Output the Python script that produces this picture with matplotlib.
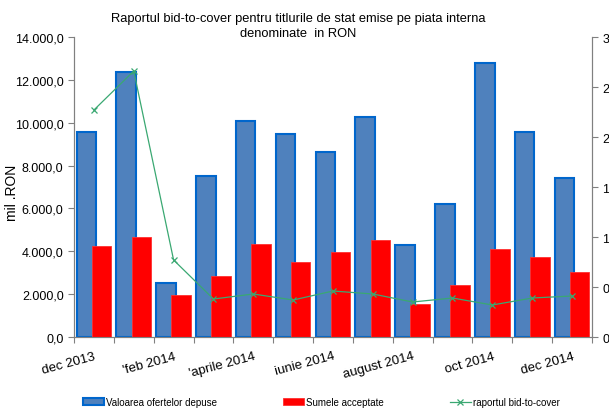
import numpy as np
import matplotlib.pyplot as plt
from matplotlib.ticker import FuncFormatter, MultipleLocator

plt.rcParams['font.family'] = ['Liberation Sans', 'DejaVu Sans']

months = ['dec 2013', 'ian 2014', "'feb 2014", 'mar 2014', "'aprile 2014", 'mai 2014',
          'iunie 2014', 'iulie 2014', 'august 2014', 'sep 2014', 'oct 2014', 'nov 2014',
          'dec 2014']
oferte = [9550, 12380, 2520, 7510, 10090, 9470, 8630, 10250, 4310, 6210, 12770, 9550, 7400]
acceptate = [4230, 4680, 1960, 2860, 4340, 3520, 3970, 4510, 1540, 2440, 4120, 3730, 3020]
btc = [2.27, 2.66, 0.77, 0.38, 0.43, 0.37, 0.46, 0.43, 0.35, 0.39, 0.32, 0.39, 0.41]

x = np.arange(len(months))

fig = plt.figure(figsize=(6.09, 4.10), dpi=100)
ax = fig.add_axes([0.1215, 0.1756, 0.8505, 0.7317])

w = 0.49
b1 = ax.bar(x - 0.19, oferte, w, color='#4F81BD', edgecolor='#0066CC', linewidth=1.5,
            label='Valoarea ofertelor depuse', zorder=2)
b2 = ax.bar(x + 0.19, acceptate, w, color='#FF0000', edgecolor='#FF3030', linewidth=0.6,
            label='Sumele acceptate', zorder=3)
ax.set_xlim(-0.5, len(months) - 0.5)
ax.set_ylim(0, 14000)
ax.yaxis.set_major_locator(MultipleLocator(2000))

def ro_fmt(v, pos):
    s = f"{v:,.1f}"
    return s.replace(',', 'X').replace('.', ',').replace('X', '.')

ax.yaxis.set_major_formatter(FuncFormatter(ro_fmt))
fig.text(12 / 609, 0.53, 'mil .RON', rotation=90, ha='center', va='center', fontsize=10)

ax.set_xticks(np.arange(len(months) + 1) - 0.5)
ax.set_xticklabels([])
for i in range(0, len(months), 2):
    ax.text(x[i], -600, months[i], rotation=15, ha='right', va='top',
            rotation_mode='anchor', fontsize=9.5)

ax2 = ax.twinx()
ln, = ax2.plot(x, btc, color='#3AA872', linewidth=0.9, marker='x', markersize=4,
               markeredgewidth=0.9, label='raportul bid-to-cover', zorder=4)
ax2.set_ylim(0, 3)
ax2.yaxis.set_major_locator(MultipleLocator(0.5))
ax2.yaxis.set_major_formatter(FuncFormatter(lambda v, p: str(int(v + 1e-9))))

for a in (ax, ax2):
    a.spines['top'].set_visible(False)
    for s in ('left', 'right', 'bottom'):
        a.spines[s].set_color('#808080')
    a.tick_params(colors='#808080', labelcolor='black', labelsize=9, length=4, width=0.8)

fig.text(0.49, 0.935, 'Raportul bid-to-cover pentru titlurile de stat emise pe piata interna\n'
         'denominate  in RON', ha='center', va='center', fontsize=9.3, linespacing=1.35)

fig.legend([b1, b2, ln], [b1.get_label(), b2.get_label(), ln.get_label()],
           loc='center left', bbox_to_anchor=(0.13, 0.017), ncol=3, frameon=False,
           fontsize=7, handlelength=2.2, handleheight=0.7, handletextpad=0.15,
           columnspacing=6.8, borderaxespad=0)

fig.savefig('out.png', dpi=100)
